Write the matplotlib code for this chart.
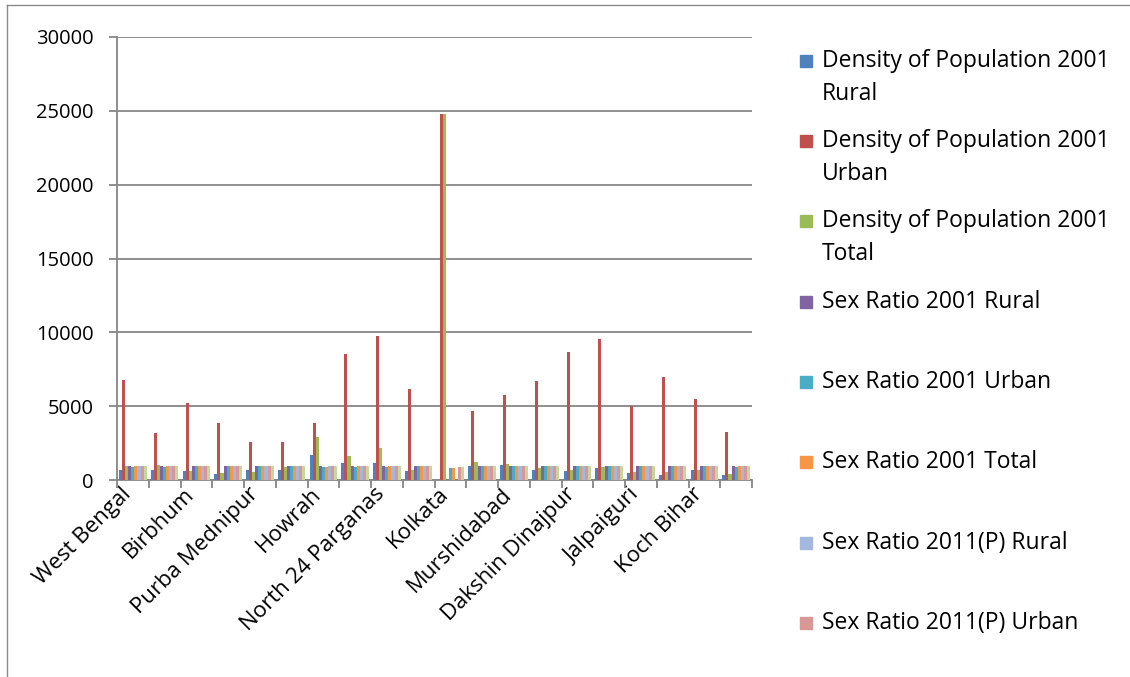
import matplotlib
matplotlib.use("Agg")
import matplotlib.pyplot as plt
from matplotlib.patches import Rectangle
from matplotlib.lines import Line2D
from matplotlib.transforms import ScaledTranslation
import numpy as np

# ------------------------------
#    DATA
# ------------------------------

districts = [
    'West Bengal', 'Barddhaman', 'Birbhum', 'Bankura', 'Purba Mednipur',
    'Paschim Mednipur', 'Howrah', 'Hooghly', 'North 24 Parganas', 'South 24 Parganas',
    'Kolkata', 'Nadia', 'Murshidabad', 'Uttar Dinajpur', 'Dakshin Dinajpur',
    'Maldah', 'Jalpaiguri', 'Darjiling', 'Koch Bihar', 'Puruliya',
]

density_rural_2001 = [690, 690, 580, 420, 645, 645, 1680, 1140, 1140, 580,
                      0, 960, 1000, 690, 580, 830, 460, 370, 690, 370]
density_urban_2001 = [6770, 3200, 5190, 3880, 2570, 2570, 3840, 8530, 9750, 6160,
                      24760, 4690, 5730, 6680, 8690, 9550, 5010, 6950, 5480, 3230]
density_total_2001 = [935, 985, 640, 460, 530, 870, 2900, 1600, 2180, 690,
                      24760, 1190, 1100, 780, 690, 870, 550, 510, 710, 420]
sex_ratio_rural_2001 = [950, 948, 960, 955, 952, 960, 955, 970, 960, 955,
                        0, 950, 955, 965, 960, 950, 950, 945, 955, 960]
sex_ratio_urban_2001 = [893, 880, 920, 930, 925, 940, 900, 880, 900, 920,
                        829, 935, 940, 920, 950, 930, 940, 925, 950, 905]
sex_ratio_total_2001 = [934, 922, 950, 952, 947, 952, 906, 940, 927, 938,
                        829, 946, 952, 938, 951, 948, 942, 937, 949, 954]
sex_ratio_rural_2011 = [953, 955, 962, 958, 950, 962, 945, 960, 960, 955,
                        0, 950, 958, 950, 958, 947, 956, 952, 945, 958]
sex_ratio_urban_2011 = [944, 940, 950, 950, 946, 955, 930, 955, 950, 945,
                        899, 960, 955, 945, 955, 955, 950, 952, 950, 940]
sex_ratio_total_2011 = [950, 943, 956, 954, 936, 960, 935, 958, 949, 949,
                        899, 947, 957, 936, 956, 939, 953, 971, 942, 955]

series_labels = [
    'Density of Population 2001\nRural',
    'Density of Population 2001\nUrban',
    'Density of Population 2001\nTotal',
    'Sex Ratio 2001 Rural',
    'Sex Ratio 2001 Urban',
    'Sex Ratio 2001 Total',
    'Sex Ratio 2011(P) Rural',
    'Sex Ratio 2011(P) Urban',
    'Sex Ratio 2011(P) Total',
]
series_values = [
    density_rural_2001, density_urban_2001, density_total_2001,
    sex_ratio_rural_2001, sex_ratio_urban_2001, sex_ratio_total_2001,
    sex_ratio_rural_2011, sex_ratio_urban_2011, sex_ratio_total_2011,
]
series_colors = ['#4F81BD', '#C0504D', '#9BBB59', '#8064A2', '#4BACC6',
                 '#F79646', '#A4B7DC', '#D99795', '#C4D79E']

# ------------------------------
#    PLOT
# ------------------------------

plt.rcParams['font.family'] = ['Open Sans', 'DejaVu Sans']
W, H = 1130, 677
fig = plt.figure(figsize=(W / 100, H / 100), dpi=100)
ax = fig.add_axes([117 / W, 1 - 480 / H, (752 - 117) / W, (480 - 37) / H])

n_series = len(series_values)
x = np.arange(len(districts))
bar_w = 0.097
offset0 = -bar_w * (n_series - 1) / 2
for i, (vals, col) in enumerate(zip(series_values, series_colors)):
    ax.bar(x + offset0 + i * bar_w, vals, width=bar_w, color=col, linewidth=0, zorder=3)

grid_col = '#868686'
ax.set_xlim(-0.5, len(districts) - 0.5)
ax.set_ylim(0, 30000)
ax.set_yticks(np.arange(0, 30001, 5000))
ax.yaxis.grid(True, color=grid_col, linewidth=1.3, zorder=0)
ax.tick_params(axis='y', length=6, width=1.3, color=grid_col, pad=11, labelsize=14.5)

# category labels every second district, tick marks between categories
ax.set_xticks(x[::2])
ax.set_xticklabels(districts[::2], rotation=45, ha='right', va='center',
                   rotation_mode='anchor')
ax.set_xticks(np.arange(-0.5, len(districts), 1.0), minor=True)
ax.tick_params(axis='x', which='major', length=0, pad=8, labelsize=16)
ax.tick_params(axis='x', which='minor', length=6, width=1.3, color=grid_col)
shift = ScaledTranslation(-5 / 100, 0, fig.dpi_scale_trans)
for lbl in ax.get_xticklabels():
    lbl.set_transform(lbl.get_transform() + shift)

for side in ['top', 'right']:
    ax.spines[side].set_visible(False)
for side in ['left', 'bottom']:
    ax.spines[side].set_color(grid_col)
    ax.spines[side].set_linewidth(1.3)

# legend drawn by hand (last series falls outside the chart area)
legend_rows = [61, 141, 221, 302, 382, 462, 543, 623]
for row_y, label, col in zip(legend_rows, series_labels, series_colors):
    fig.patches.append(Rectangle((800 / W, 1 - (row_y + 6) / H), 12 / W, 12 / H,
                                 transform=fig.transFigure, color=col))
    for k, line in enumerate(label.split('\n')):
        fig.text(822 / W, 1 - (row_y + 33 * k) / H, line, fontsize=16.5,
                 ha='left', va='center')

# outer chart border
fig.add_artist(Line2D([7 / W, 7 / W], [0, 1 - 5 / H], color='#8a8a8a', linewidth=1.0))
fig.add_artist(Line2D([7 / W, 1], [1 - 5 / H, 1 - 5 / H], color='#8a8a8a', linewidth=1.0))

fig.savefig('out.png', dpi=100)
